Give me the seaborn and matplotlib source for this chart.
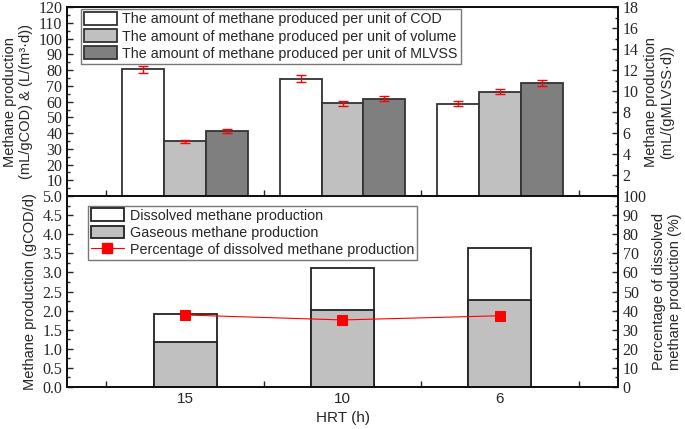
import numpy as np
import pandas as pd
import matplotlib
matplotlib.use("Agg")
import matplotlib.pyplot as plt
import seaborn as sns
from matplotlib.patches import Patch
from matplotlib.lines import Line2D
from matplotlib.ticker import MultipleLocator

# Data
hrt = ["15", "10", "6"]
per_cod = [80.5, 74.6, 58.7]
per_cod_err = [2.4, 2.2, 1.6]
per_volume = [34.8, 58.9, 66.4]
per_volume_err = [0.8, 1.4, 1.8]
per_mlvss = [6.2, 9.3, 10.8]
per_mlvss_err = [0.15, 0.22, 0.28]
gaseous = [1.19, 2.02, 2.29]
total = [1.91, 3.12, 3.64]
dissolved_pct = [37.7, 35.1, 37.3]

series_names = ["The amount of methane produced per unit of COD",
                "The amount of methane produced per unit of volume",
                "The amount of methane produced per unit of MLVSS"]
colors = ["#ffffff", "#c0c0c0", "#7f7f7f"]

sns.set_style("ticks")
plt.rcParams['font.family'] = ['Liberation Sans', 'DejaVu Sans']
serif = ['Liberation Serif', 'DejaVu Serif']

top_df = pd.DataFrame({
    'hrt': hrt * 3,
    'series': np.repeat(series_names, 3),
    'left': per_cod + per_volume + [np.nan] * 3,
    'right': [np.nan] * 6 + per_mlvss,
})

fig = plt.figure(figsize=(6.85, 4.29), dpi=100)
ax1 = fig.add_axes([0.098, 0.543, 0.804, 0.440])
ax1r = ax1.twinx()
ax2 = fig.add_axes([0.098, 0.098, 0.804, 0.445])
ax2r = ax2.twinx()

edge = "#333333"
sns.barplot(data=top_df, x='hrt', y='left', hue='series', hue_order=series_names,
            order=hrt, palette=colors, width=0.8, errorbar=None, legend=False,
            edgecolor=edge, linewidth=1.3, ax=ax1)
sns.barplot(data=top_df, x='hrt', y='right', hue='series', hue_order=series_names,
            order=hrt, palette=colors, width=0.8, errorbar=None, legend=False,
            edgecolor=edge, linewidth=1.3, ax=ax1r)

# error bars at the drawn bar centres
def add_err(ax, vals, errs):
    bars = [p for p in ax.patches if p.get_height() > 0 and not np.isnan(p.get_height())]
    for v, e in zip(vals, errs):
        for p in bars:
            if abs(p.get_height() - v) < 1e-9:
                ax.errorbar(p.get_x() + p.get_width() / 2, v, yerr=e, color='red',
                            capsize=3.5, elinewidth=1, capthick=1, zorder=5)
                break

add_err(ax1, per_cod + per_volume, per_cod_err + per_volume_err)
add_err(ax1r, per_mlvss, per_mlvss_err)

ax1.set_ylim(0, 120)
ax1r.set_ylim(0, 18)
ax1.yaxis.set_minor_locator(MultipleLocator(5))
ax1r.yaxis.set_minor_locator(MultipleLocator(1))
ax1.set_yticks(np.arange(0, 121, 10))
ax1.set_yticklabels([""] + [str(v) for v in range(10, 121, 10)])
ax1r.set_yticks(np.arange(0, 19, 2))
ax1r.set_yticklabels([""] + [str(v) for v in range(2, 19, 2)])
ax1.set_xlim(-0.75, 2.75)
ax1.set_xticks([-0.5, -0.25, 0, 0.25, 0.5, 0.75, 1, 1.25, 1.5, 1.75, 2, 2.25, 2.5])
ax1.set_xticklabels([])
ax1.set_xlabel("")
ax1.set_ylabel("Methane production\n(mL/gCOD) & (L/(m³·d))", fontsize=10.5, linespacing=1.2)
ax1r.set_ylabel("Methane production\n(mL/(gMLVSS·d))", fontsize=10.5, linespacing=1.2)

handles = [Patch(facecolor=c, edgecolor=edge, linewidth=1.3) for c in colors]
leg = ax1.legend(handles, series_names, loc='upper left', bbox_to_anchor=(0.025, 0.99),
                 fontsize=10.3, frameon=True, fancybox=False, handlelength=2.3,
                 handleheight=1.0, labelspacing=0.2, borderpad=0.2, handletextpad=0.4,
                 borderaxespad=0)
leg.get_frame().set_edgecolor('#555555')
leg.get_frame().set_linewidth(1.0)

# bottom panel: stacked bars (total white, gaseous grey in front)
bot_df = pd.DataFrame({'hrt': hrt, 'total': total, 'gaseous': gaseous, 'pct': dissolved_pct})
sns.barplot(data=bot_df, x='hrt', y='total', order=hrt, color='white', width=0.4,
            edgecolor='#222222', linewidth=1.3, errorbar=None, ax=ax2)
sns.barplot(data=bot_df, x='hrt', y='gaseous', order=hrt, color='#c0c0c0', width=0.4,
            edgecolor='#222222', linewidth=1.3, errorbar=None, ax=ax2)
sns.lineplot(x=np.arange(len(hrt)), y=bot_df['pct'], color='red', marker='s',
             markersize=7, markeredgecolor='red', linewidth=0.8, ax=ax2r)

ax2.set_xlim(-0.75, 2.75)
ax2.set_xticks([-0.5, 0, 0.5, 1, 1.5, 2, 2.5])
ax2.set_xticklabels(["", "15", "", "10", "", "6", ""], fontsize=11)
ax2.set_ylim(0, 5)
ax2r.set_ylim(0, 100)
ax2.yaxis.set_minor_locator(MultipleLocator(0.25))
ax2r.yaxis.set_major_locator(MultipleLocator(10))
ax2r.yaxis.set_minor_locator(MultipleLocator(5))
ax2.set_yticks(np.arange(0, 5.01, 0.5))
ax2.set_yticklabels([f"{v:.1f}" for v in np.arange(0, 5.01, 0.5)])
ax2.set_xlabel("HRT (h)", fontsize=11)
ax2.set_ylabel("Methane production (gCOD/d)", fontsize=10.5)
ax2r.set_ylabel("Percentage of dissolved\nmethane production (%)", fontsize=10.5, linespacing=1.2)

h2 = [Patch(facecolor='white', edgecolor='#222222', linewidth=1.3),
      Patch(facecolor='#c0c0c0', edgecolor='#222222', linewidth=1.3),
      Line2D([], [], color='red', marker='s', markersize=7, linewidth=0.8)]
l2 = ["Dissolved methane production", "Gaseous methane production",
      "Percentage of dissolved methane production"]
leg2 = ax2.legend(h2, l2, loc='upper left', bbox_to_anchor=(0.038, 0.95),
                  fontsize=10.3, frameon=True, fancybox=False, handlelength=2.3,
                  handleheight=1.0, labelspacing=0.2, borderpad=0.2, handletextpad=0.4,
                  borderaxespad=0)
leg2.get_frame().set_edgecolor('#555555')
leg2.get_frame().set_linewidth(1.0)

for ax in [ax1, ax1r, ax2, ax2r]:
    ax.tick_params(axis='both', which='both', direction='in')
    ax.tick_params(which='major', length=4, width=1)
    ax.tick_params(which='minor', length=2, width=1)
    for s in ax.spines.values():
        s.set_linewidth(1.4)
        s.set_color('#111111')
    for lab in ax.get_yticklabels():
        lab.set_family(serif)
        lab.set_fontsize(11.5)

fig.savefig("out.png", dpi=100)
